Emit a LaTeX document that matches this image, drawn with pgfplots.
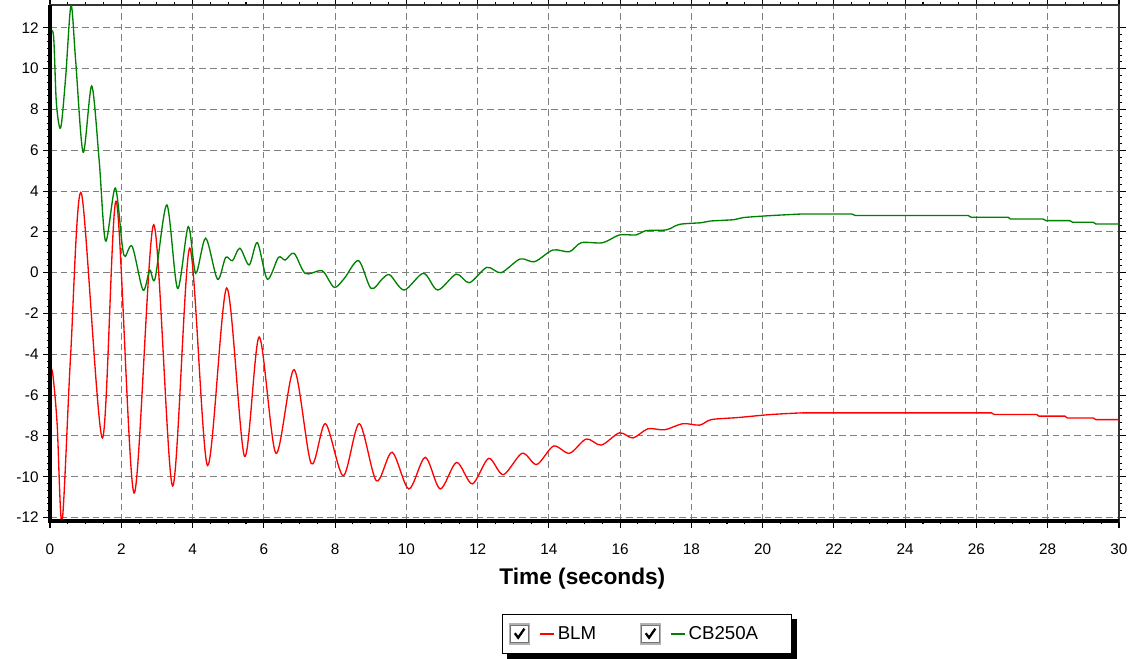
\documentclass[border=0pt]{standalone}
\usepackage{fontspec}
\setmainfont{Liberation Sans}
\usepackage{pgfplots}
\pgfplotsset{compat=1.18}

\definecolor{blmred}{RGB}{255,0,0}
\definecolor{cbgreen}{RGB}{0,128,0}
\definecolor{gridgray}{RGB}{128,128,128}

\begin{document}
\begin{tikzpicture}
\path[use as bounding box] (-37.5pt,-102.75pt) rectangle (812.25pt,390.75pt);
\begin{axis}[
 scale only axis, width=801.75pt, height=387pt,
 xmin=0, xmax=30, ymin=-12.17, ymax=13.12,
 xtick={0,2,...,30}, ytick={-12,-10,...,12},
 minor x tick num=3, minor y tick num=5,
 tick align=outside, major tick length=5pt, minor tick length=2.5pt,
 tick style={black, line width=0.8pt},
 grid=major,
 major grid style={gridgray, dash pattern=on 5pt off 3pt, line width=0.8pt},
 axis line style={black!80, line width=1pt},
 ticklabel style={font=\fontsize{11.5}{13}\selectfont},
 /pgf/number format/assume math mode=true,
 xticklabel style={yshift=-8.5pt},
 xlabel={Time (seconds)},
 xlabel style={font=\fontsize{17}{20}\selectfont\bfseries, at={(axis description cs:0.498,0)}, anchor=center, yshift=-43pt},
 legend columns=2,
 legend style={name=lgd, at={(axis description cs:0.5585,0)}, anchor=center, yshift=-84.75pt,
   draw=black, line width=0.8pt, fill=white,
   font=\fontsize{14}{16}\selectfont, inner xsep=5pt, inner ysep=6.8pt,
   nodes={inner xsep=2pt},
   /tikz/every even column/.append style={column sep=31pt}},
 legend image code/.code={
   \draw[line width=0.8pt, draw=gray!60, fill=white] (0pt,-7.5pt) rectangle (15pt,7.5pt);
   \draw[line width=0.8pt, draw=black!55] (0.9pt,-6.6pt) rectangle (14.1pt,6.6pt);
   \draw[line width=1.7pt, black] (3.8pt,0.6pt) -- (6.3pt,-2.8pt) -- (11pt,4pt);
   \draw[#1, line width=1pt] (22.5pt,0pt) -- (33.5pt,0pt);
 },
 clip mode=individual,
 after end axis/.code={\draw[black, line width=2.4pt] (rel axis cs:0,1) -- (rel axis cs:0,0) -- (rel axis cs:1,0);}
]
\addplot[blmred, line width=1pt, smooth, tension=0.5] coordinates {
(0,-4.6) (0.08,-5.0) (0.2,-7.4) (0.34,-12.2) (0.58,-4.0) (0.88,3.9) (1.47,-8.1) (1.86,3.5) (2.36,-10.8) (2.91,2.35) (3.44,-10.45) (3.92,1.2) (4.42,-9.45) (4.96,-0.75) (5.46,-9.0) (5.87,-3.15) (6.34,-8.85) (6.85,-4.75) (7.33,-9.35) (7.73,-7.4) (8.23,-9.95) (8.68,-7.4) (9.16,-10.2) (9.6,-8.8) (10.07,-10.6) (10.53,-9.05) (10.95,-10.6) (11.41,-9.3) (11.85,-10.35) (12.31,-9.1) (12.72,-9.9) (13.25,-8.85) (13.66,-9.4) (14.13,-8.5) (14.58,-8.85) (15.05,-8.15) (15.47,-8.45) (15.98,-7.85) (16.36,-8.1) (16.78,-7.65) (17.25,-7.7) (17.76,-7.4) (18.23,-7.47) (18.56,-7.2) (19.3,-7.1) (20.24,-6.95) (21.09,-6.87)
};
\addlegendentry{BLM}
\addplot[cbgreen, line width=1pt, smooth, tension=0.5] coordinates {
(0,11.8) (0.1,11.6) (0.18,8.3) (0.3,7.1) (0.44,9.6) (0.59,13.1) (0.72,10.4) (0.93,5.9) (1.17,9.15) (1.38,5.5) (1.56,1.55) (1.83,4.15) (2.03,1.3) (2.11,0.8) (2.31,1.28) (2.61,-0.85) (2.8,0.13) (2.95,-0.28) (3.28,3.32) (3.58,-0.77) (3.88,2.26) (4.09,-0.03) (4.37,1.69) (4.7,-0.32) (4.93,0.75) (5.12,0.59) (5.33,1.2) (5.59,0.38) (5.82,1.47) (6.1,-0.32) (6.41,0.75) (6.6,0.62) (6.85,0.95) (7.16,-0.03) (7.56,0.1) (7.7,0.0) (7.98,-0.72) (8.26,-0.28) (8.66,0.59) (9.01,-0.77) (9.34,-0.28) (9.54,-0.11) (9.94,-0.85) (10.48,-0.03) (10.88,-0.85) (11.4,-0.07) (11.77,-0.49) (12.26,0.26) (12.66,0.0) (13.19,0.67) (13.6,0.54) (14.11,1.11) (14.58,1.03) (14.91,1.47) (15.51,1.47) (15.98,1.85) (16.45,1.85) (16.73,2.06) (17.3,2.1) (17.67,2.37) (18.28,2.45) (18.52,2.53) (19.2,2.6) (19.45,2.7) (20.24,2.8) (21.13,2.88)
};
\addlegendentry{CB250A\makebox[18pt]{}}
\addplot[blmred, line width=1pt, forget plot] coordinates {
(21.09,-6.87) (26.42,-6.87) (26.5,-6.95) (27.69,-6.95) (27.75,-7.03) (28.48,-7.03) (28.55,-7.12) (29.28,-7.12) (29.35,-7.2) (30,-7.2)
};
\addplot[cbgreen, line width=1pt, forget plot] coordinates {
(21.13,2.88) (22.5,2.88) (22.6,2.8) (25.77,2.8) (25.85,2.72) (26.89,2.72) (26.95,2.63) (27.87,2.63) (27.95,2.55) (28.62,2.55) (28.7,2.47) (29.28,2.47) (29.35,2.39) (30,2.39)
};
\end{axis}
\fill[black] ([xshift=3.5pt]lgd.south west) rectangle ([xshift=3.5pt,yshift=-3.5pt]lgd.south east);
\fill[black] ([yshift=-3.5pt]lgd.north east) rectangle ([xshift=3.5pt,yshift=-3.5pt]lgd.south east);
\end{tikzpicture}
\end{document}
